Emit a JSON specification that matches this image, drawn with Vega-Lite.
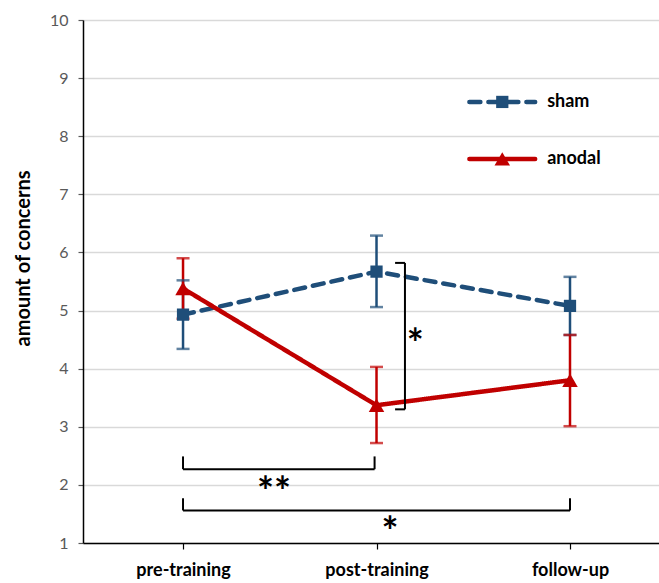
{
  "$schema": "https://vega.github.io/schema/vega-lite/v6.json",
  "autosize": "none",
  "width": 576,
  "height": 523,
  "padding": {"left": 83, "top": 20, "right": 0, "bottom": 40},
  "background": "white",
  "config": {
    "view": {"stroke": null},
    "font": "Lato"
  },
  "datasets": {
    "main": [
      {"group": "sham", "time": 1, "mean": 4.93, "lo": 4.34, "hi": 5.52},
      {"group": "sham", "time": 2, "mean": 5.67, "lo": 5.06, "hi": 6.29},
      {"group": "sham", "time": 3, "mean": 5.08, "lo": 4.58, "hi": 5.58},
      {"group": "anodal", "time": 1, "mean": 5.38, "lo": 4.86, "hi": 5.9},
      {"group": "anodal", "time": 2, "mean": 3.37, "lo": 2.72, "hi": 4.03},
      {"group": "anodal", "time": 3, "mean": 3.8, "lo": 3.01, "hi": 4.58}
    ],
    "legend": [
      {"group": "sham", "x1": 2.48, "x2": 2.82, "xm": 2.65, "y": 8.59},
      {"group": "anodal", "x1": 2.48, "x2": 2.82, "xm": 2.65, "y": 7.61}
    ],
    "brackets": [
      {"x": 1.0, "x2": 1.0, "y": 2.49, "y2": 2.27},
      {"x": 1.0, "x2": 1.99, "y": 2.27, "y2": 2.27},
      {"x": 1.99, "x2": 1.99, "y": 2.27, "y2": 2.49},
      {"x": 1.0, "x2": 1.0, "y": 1.77, "y2": 1.56},
      {"x": 1.0, "x2": 3.0, "y": 1.56, "y2": 1.56},
      {"x": 3.0, "x2": 3.0, "y": 1.56, "y2": 1.77},
      {"x": 2.096, "x2": 2.147, "y": 5.82, "y2": 5.82},
      {"x": 2.147, "x2": 2.147, "y": 5.82, "y2": 3.3},
      {"x": 2.147, "x2": 2.096, "y": 3.3, "y2": 3.3}
    ],
    "stars": [
      {"x": 1.47, "y": 2.03, "label": "**"},
      {"x": 2.07, "y": 1.34, "label": "*"},
      {"x": 2.2, "y": 4.58, "label": "*"}
    ]
  },
  "layer": [
    {
      "data": {"name": "main"},
      "mark": {"type": "line", "strokeWidth": 4.5, "strokeCap": "round"},
      "encoding": {
        "x": {
          "field": "time", "type": "quantitative",
          "scale": {"domain": [0.483, 3.46], "nice": false, "zero": false},
          "axis": {
            "title": null, "values": [1, 2, 3], "grid": false,
            "labelExpr": "datum.value == 1 ? 'pre-training' : datum.value == 2 ? 'post-training' : 'follow-up'",
            "labelFont": "Lato", "labelFontSize": 18, "labelFontWeight": "bold", "labelColor": "black",
            "labelPadding": 12, "domainColor": "black", "domainWidth": 1.5,
            "tickColor": "black", "tickSize": 6, "tickWidth": 1.2
          }
        },
        "y": {
          "field": "mean", "type": "quantitative",
          "scale": {"domain": [1, 10], "nice": false, "zero": false},
          "axis": {
            "title": "amount of concerns", "titleFont": "Lato", "titleFontSize": 20, "titleFontWeight": "bold", "titleColor": "black",
            "titleAngle": 270, "titleBaseline": "middle", "titleAlign": "center", "titleX": -60, "titleY": 238,
            "values": [1, 2, 3, 4, 5, 6, 7, 8, 9, 10], "format": "d", "grid": true, "gridColor": "#d9d9d9", "gridWidth": 1.5,
            "labelFont": "Lato", "labelFontSize": 16, "labelColor": "#595959", "labelPadding": 10,
            "domainColor": "black", "domainWidth": 1.5, "tickColor": "#595959", "tickSize": 5, "tickWidth": 1.2
          }
        },
        "color": {"field": "group", "type": "nominal", "scale": {"domain": ["sham", "anodal"], "range": ["#1F4E79", "#C00000"]}, "legend": null},
        "strokeDash": {"field": "group", "type": "nominal", "scale": {"domain": ["sham", "anodal"], "range": [[11, 8], [1, 0]]}, "legend": null}
      }
    },
    {
      "data": {"name": "main"},
      "mark": {"type": "rule", "strokeWidth": 2.5},
      "encoding": {
        "x": {"field": "time", "type": "quantitative"},
        "y": {"field": "lo", "type": "quantitative"},
        "y2": {"field": "hi"},
        "color": {"field": "group", "type": "nominal", "scale": {"domain": ["sham", "anodal"], "range": ["#1F4E79", "#C00000"]}, "legend": null}
      }
    },
    {
      "data": {"name": "main"},
      "mark": {"type": "tick", "orient": "horizontal", "size": 13, "thickness": 2.5},
      "encoding": {
        "x": {"field": "time", "type": "quantitative"},
        "y": {"field": "lo", "type": "quantitative"},
        "color": {"field": "group", "type": "nominal", "scale": {"domain": ["sham", "anodal"], "range": ["#1F4E79", "#C00000"]}, "legend": null}
      }
    },
    {
      "data": {"name": "main"},
      "mark": {"type": "tick", "orient": "horizontal", "size": 13, "thickness": 2.5},
      "encoding": {
        "x": {"field": "time", "type": "quantitative"},
        "y": {"field": "hi", "type": "quantitative"},
        "color": {"field": "group", "type": "nominal", "scale": {"domain": ["sham", "anodal"], "range": ["#1F4E79", "#C00000"]}, "legend": null}
      }
    },
    {
      "data": {"name": "main"},
      "mark": {"type": "point", "filled": true, "opacity": 1},
      "encoding": {
        "x": {"field": "time", "type": "quantitative"},
        "y": {"field": "mean", "type": "quantitative"},
        "color": {"field": "group", "type": "nominal", "scale": {"domain": ["sham", "anodal"], "range": ["#1F4E79", "#C00000"]}, "legend": null},
        "shape": {"field": "group", "type": "nominal", "scale": {"domain": ["sham", "anodal"], "range": ["square", "triangle-up"]}, "legend": null},
        "size": {"field": "group", "type": "nominal", "scale": {"domain": ["sham", "anodal"], "range": [150, 240]}, "legend": null}
      }
    },
    {
      "data": {"name": "brackets"},
      "mark": {"type": "rule", "color": "black", "strokeWidth": 2},
      "encoding": {
        "x": {"field": "x", "type": "quantitative"},
        "x2": {"field": "x2"},
        "y": {"field": "y", "type": "quantitative"},
        "y2": {"field": "y2"}
      }
    },
    {
      "data": {"name": "stars"},
      "mark": {"type": "text", "font": "Lato", "fontSize": 40, "fontWeight": "bold", "color": "black", "baseline": "middle", "dy": 11},
      "encoding": {
        "x": {"field": "x", "type": "quantitative"},
        "y": {"field": "y", "type": "quantitative"},
        "text": {"field": "label"}
      }
    },
    {
      "data": {"name": "legend"},
      "mark": {"type": "rule", "strokeWidth": 4.5, "strokeCap": "round"},
      "encoding": {
        "x": {"field": "x1", "type": "quantitative"},
        "x2": {"field": "x2"},
        "y": {"field": "y", "type": "quantitative"},
        "color": {"field": "group", "type": "nominal", "scale": {"domain": ["sham", "anodal"], "range": ["#1F4E79", "#C00000"]}, "legend": null},
        "strokeDash": {"field": "group", "type": "nominal", "scale": {"domain": ["sham", "anodal"], "range": [[11, 8], [1, 0]]}, "legend": null}
      }
    },
    {
      "data": {"name": "legend"},
      "mark": {"type": "point", "filled": true, "opacity": 1},
      "encoding": {
        "x": {"field": "xm", "type": "quantitative"},
        "y": {"field": "y", "type": "quantitative"},
        "color": {"field": "group", "type": "nominal", "scale": {"domain": ["sham", "anodal"], "range": ["#1F4E79", "#C00000"]}, "legend": null},
        "shape": {"field": "group", "type": "nominal", "scale": {"domain": ["sham", "anodal"], "range": ["square", "triangle-up"]}, "legend": null},
        "size": {"field": "group", "type": "nominal", "scale": {"domain": ["sham", "anodal"], "range": [150, 240]}, "legend": null}
      }
    },
    {
      "data": {"name": "legend"},
      "mark": {"type": "text", "font": "Lato", "fontSize": 18, "fontWeight": "bold", "color": "black", "align": "left", "baseline": "middle", "dx": 12},
      "encoding": {
        "x": {"field": "x2", "type": "quantitative"},
        "y": {"field": "y", "type": "quantitative"},
        "text": {"field": "group"}
      }
    }
  ]
}
